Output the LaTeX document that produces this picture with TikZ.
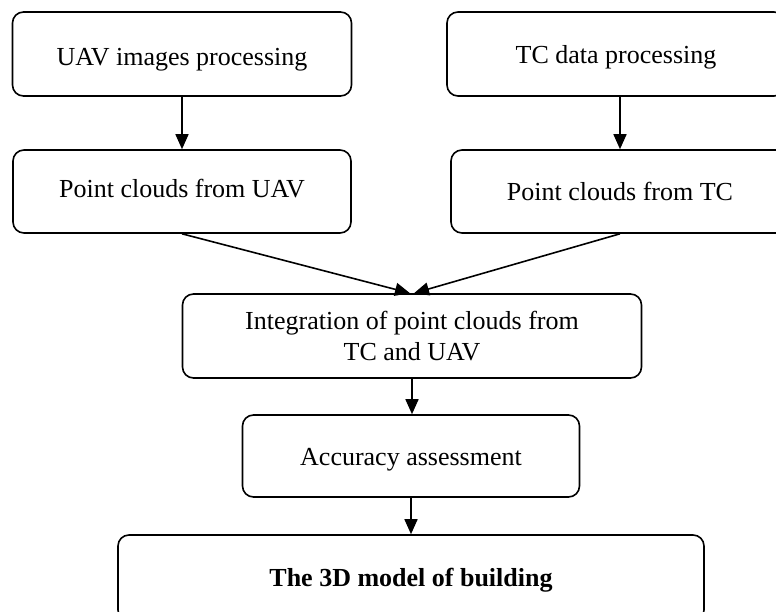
\documentclass[tikz,border=0pt]{standalone}
\usepackage{fontspec}
\setmainfont{Liberation Serif}
\usetikzlibrary{arrows.meta}
\begin{document}
\begin{tikzpicture}[x=1pt,y=-1pt,
  box/.style={draw,line width=1.6pt,rounded corners=11pt,inner sep=0pt,align=center,
    font=\fontsize{26}{31}\selectfont},
  conn/.style={line width=1.6pt,-{Triangle[length=15pt,width=13pt]}}]
\useasboundingbox (0,0) rectangle (776,612);
\clip (0,0) rectangle (776,612);
\node[box,minimum width=339pt,minimum height=84pt,text height=23.2pt,text depth=0.2pt] (A) at (182,54) {UAV images processing};
\node[box,minimum width=338pt,minimum height=83pt,text height=18.2pt,text depth=5.2pt] (B) at (182,191.5) {Point clouds from UAV};
\node[box,minimum width=338pt,minimum height=84pt,text height=21.7pt,text depth=1.7pt] (C) at (616,54) {TC data processing};
\node[box,minimum width=338pt,minimum height=83pt,text height=21.2pt,text depth=2.2pt] (D) at (620,191.5) {Point clouds from TC};
\node[box,minimum width=459pt,minimum height=84pt] (E) at (412,336) {Integration of point clouds from\\TC and UAV};
\node[box,minimum width=337pt,minimum height=82pt,text height=20.7pt,text depth=2.7pt] (F) at (411,456) {Accuracy assessment};
\node[box,minimum width=586pt,minimum height=86pt,text height=20.2pt,text depth=3.2pt] (G) at (411,578) {\bfseries The 3D model of building};
\draw[conn] (A.south) -- (B.north);
\draw[conn] (C.south -| D.north) -- (D.north);
\draw[conn] (B.south) -- ([xshift=-2pt]E.north);
\draw[conn] (D.south) -- ([xshift=2pt]E.north);
\draw[conn] (E.south) -- (E.south |- F.north);
\draw[conn] (F.south) -- (F.south |- G.north);
\end{tikzpicture}
\end{document}
